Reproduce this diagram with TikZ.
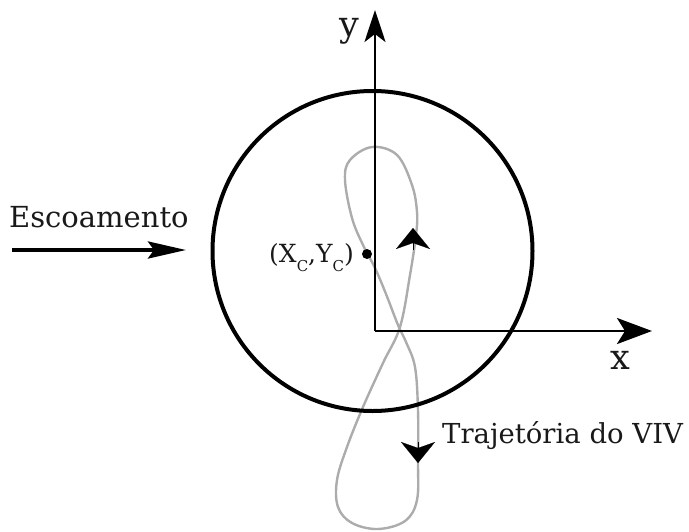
\documentclass[tikz,border=0pt]{standalone}
\usepackage{fontspec}
\setmainfont{DejaVu Serif}
\usetikzlibrary{arrows.meta}
\definecolor{trajgray}{RGB}{172,172,172}
\begin{document}
\begin{tikzpicture}[x=1pt,y=-1pt,
  axisline/.style={line width=2.6pt, draw=black},
  traj/.style={draw=trajgray, line width=2.4pt},
  lbl/.style={inner sep=0pt, text=black!90},
  motionhead/.style={-{Stealth[length=21pt,width=34pt,inset=6pt]}, line width=0.1pt}
]
\useasboundingbox (0,0) rectangle (689,531);

% trajectory (figure eight)
\draw[traj] plot[smooth cycle, tension=0.6] coordinates {
 (400,327) (410,275) (416,235) (417,212) (412,185) (397,155) (372,147)
 (350,160) (345,180) (352,218) (363,245) (375,268) (386,294) (398,325)
 (406,342) (415,367) (418,410) (418,460) (417,500) (405,521) (378,529)
 (352,523) (338,507) (337,480) (347,447) (363,407) (383,363)};

% circle
\node[draw, circle, line width=4pt, minimum size=320pt, inner sep=0pt] (cyl) at (372.5,251) {};

% axes
\coordinate (O) at (375,331);
\coordinate (ytip) at (375,10);
\coordinate (xtip) at (652,331);
\draw[axisline, -{Stealth[length=32pt,width=21pt,inset=8pt]}] (O) -- (ytip);
\draw[axisline, -{Stealth[length=35pt,width=26pt,inset=8pt]}] (O) -- (xtip);
\node[lbl, font=\fontsize{35}{35}\selectfont] (ylab) at (349,31) {y};
\node[lbl, font=\fontsize{35}{35}\selectfont] (xlab) at (620,360) {x};

% flow arrow
\coordinate (fstart) at (12,250);
\coordinate (fend) at (186,250);
\draw[line width=4pt, -{Stealth[length=38pt,width=17pt,inset=6pt]}] (fstart) -- (fend);
\node[lbl, anchor=base west, font=\fontsize{29}{29}\selectfont] (flow) at (9,227) {Escoamento};

% center
\node[circle, fill=black, minimum size=10pt, inner sep=0pt] (ctr) at (367,254) {};
\node[lbl, anchor=base west, font=\fontsize{25}{25}\selectfont] (ctrlab) at (269,262)
  {(X\raisebox{-9pt}{\fontsize{15}{15}\selectfont C},Y\raisebox{-9pt}{\fontsize{15}{15}\selectfont C})};

% motion arrowheads
\coordinate (upa) at (413,250);
\coordinate (upb) at (413,228);
\draw[motionhead] (upa) -- (upb);
\coordinate (dna) at (418,442);
\coordinate (dnb) at (418,463);
\draw[motionhead] (dna) -- (dnb);
\node[lbl, anchor=base west, font=\fontsize{27.5}{27.5}\selectfont] (trajlab) at (442,443) {Trajetória do VIV};
\end{tikzpicture}
\end{document}
